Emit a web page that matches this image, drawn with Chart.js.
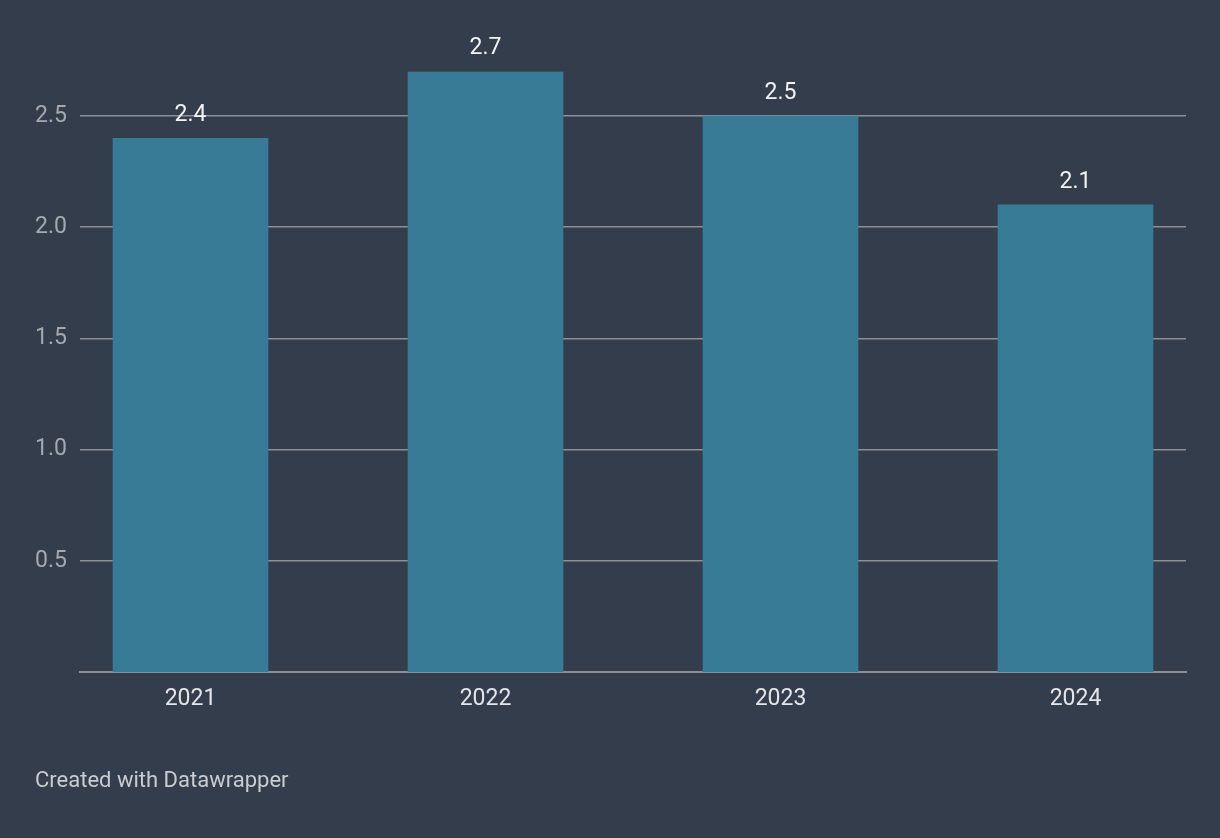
<!DOCTYPE html>
<html>
<head>
<meta charset="utf-8">
<script src="https://cdn.jsdelivr.net/npm/chart.js@4.4.1/dist/chart.umd.min.js"></script>
<style>
  html, body { margin: 0; padding: 0; background: #333d4c; }
  #wrap { position: relative; width: 1220px; height: 838px; background: #333d4c; }
  #c { position: absolute; left: 0; top: 0; }
  #footer { position: absolute; left: 35px; top: 767px; font-family: Roboto, "Noto Sans", sans-serif; font-size: 22px; color: #c9ccd1; white-space: nowrap; }
</style>
</head>
<body>
<div id="wrap">
  <canvas id="c" width="1220" height="838"></canvas>
  <div id="footer">Created with Datawrapper</div>
</div>
<script>
const years = [2021, 2022, 2023, 2024];
const values = [2.4, 2.7, 2.5, 2.1];
const yTicks = [0.5, 1.0, 1.5, 2.0, 2.5];

const FONT = 'Roboto, "Noto Sans", sans-serif';

const barLabels = {
  id: 'barLabels',
  afterDatasetsDraw(chart) {
    const ctx = chart.ctx;
    const meta = chart.getDatasetMeta(0);
    ctx.save();
    ctx.font = '23px ' + FONT;
    ctx.fillStyle = '#f2f3f5';
    ctx.textAlign = 'center';
    ctx.textBaseline = 'middle';
    meta.data.forEach((bar, i) => {
      ctx.fillText(values[i].toFixed(1), bar.x, bar.y - 23);
    });
    ctx.restore();
  }
};

new Chart(document.getElementById('c'), {
  type: 'bar',
  data: {
    datasets: [{
      data: years.map((y, i) => ({ x: y, y: values[i] })),
      backgroundColor: '#377b97',
      borderWidth: 0,
      barThickness: 155
    }]
  },
  options: {
    responsive: false,
    animation: false,
    events: [],
    layout: { padding: { left: 0, right: 34, top: 71.5, bottom: 0 } },
    plugins: { legend: { display: false }, tooltip: { enabled: false } },
    scales: {
      x: {
        type: 'linear',
        offset: false,
        bounds: 'data',
        min: 2020.6254,
        max: 2024.3746,
        afterBuildTicks: (axis) => { axis.ticks = years.map(v => ({ value: v })); },
        afterFit: (axis) => { axis.height = 166; },
        grid: { display: false, drawTicks: false, offset: false },
        border: { display: true, color: '#8c8f93', width: 2 },
        ticks: {
          color: '#e3e5e8',
          font: { family: FONT, size: 23 },
          padding: 13,
          maxRotation: 0,
          autoSkip: false,
          callback: (v) => String(v)
        }
      },
      y: {
        min: 0,
        max: 2.7,
        afterBuildTicks: (axis) => { axis.ticks = yTicks.map(v => ({ value: v })); },
        afterFit: (axis) => { axis.width = 80; },
        grid: { color: '#8c8f93', lineWidth: 1.6, drawTicks: false },
        border: { display: false },
        ticks: {
          color: '#a4a9b0',
          font: { family: FONT, size: 23 },
          padding: 13,
          callback: (v) => v.toFixed(1)
        }
      }
    }
  },
  plugins: [barLabels]
});
</script>
</body>
</html>
